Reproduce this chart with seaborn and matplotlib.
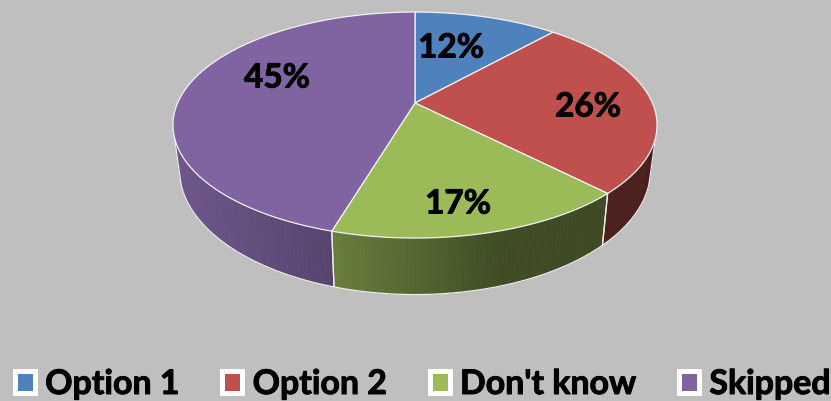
import numpy as np
import matplotlib
matplotlib.use("Agg")
import matplotlib.pyplot as plt
import matplotlib.patheffects as pe
from matplotlib.patches import Patch
import seaborn as sns

# values
labels = ["Option 1", "Option 2", "Don't know", "Skipped"]
shares = [11.6, 26.1, 16.9, 45.4]
colors = ["#4F81BD", "#C0504D", "#9BBB59", "#8064A2"]
# where the percent labels sit, in pixels
label_x = [451, 588, 458, 277]
label_y = [48, 107, 204, 78]

bg = "#BFBFBF"
sns.set_theme(style="white", rc={"figure.facecolor": bg, "axes.facecolor": bg})
plt.rcParams["font.family"] = ["Lato", "DejaVu Sans"]


# perspective view of the round top and bottom of the pie
def project(theta, a, b, yc, k=0.195):
    u, v = np.sin(theta), np.cos(theta)
    d = 1 + k * v
    return 415 + a * u / d, yc - b * v / d


def top(theta):
    return project(theta, 237.4, 108.7, 103)


def bottom(theta):
    return project(theta, 231, 120, 145.5)


fig = plt.figure(figsize=(8.31, 4.01), dpi=100)
ax = fig.add_axes([0, 0, 1, 1])
ax.set_xlim(0, 831)
ax.set_ylim(401, 0)
ax.axis("off")

edges = np.radians(np.cumsum([0] + shares) * 3.6)
wall_from, wall_to = np.arccos(-0.3), 2 * np.pi - np.arccos(-0.3)
bold = [pe.withStroke(linewidth=0.7, foreground="black")]

# side wall, darker towards the right
for i, c in enumerate(colors):
    lo, hi = max(edges[i], wall_from), min(edges[i + 1], wall_to)
    if lo >= hi:
        continue
    steps = np.linspace(lo, hi, int((hi - lo) * 60) + 2)
    rgb = np.array(sns.color_palette([c])[0])
    for t0, t1 in zip(steps[:-1], steps[1:]):
        x0, y0 = top(t0)
        x1, y1 = top(t1)
        x2, y2 = bottom(t1)
        x3, y3 = bottom(t0)
        shade = np.interp((x0 + x1) / 2, [175, 330, 500, 650], [0.86, 0.68, 0.41, 0.39])
        ax.fill([x0, x1, x2, x3], [y0, y1, y2, y3], color=tuple(rgb * shade), lw=0.5, zorder=2)
    # white line down each slice border
    for t in (lo, hi):
        xa, ya = top(t)
        xb, yb = bottom(t)
        ax.plot([xa, xb], [ya, yb], color="#EDEDED", lw=0.9, zorder=3)

rim = np.linspace(wall_from, wall_to, 200)
ax.plot(*bottom(rim), color="#EDEDED", lw=0.9, zorder=3)

# top face
for i, c in enumerate(colors):
    t = np.linspace(edges[i], edges[i + 1], 120)
    xs, ys = top(t)
    ax.fill(np.r_[415, xs], np.r_[103, ys], facecolor=c, edgecolor="#F2F2F2", lw=0.9,
            joinstyle="round", zorder=4)
    ax.text(label_x[i], label_y[i], f"{shares[i]:.0f}%", fontsize=24, fontweight="bold",
            color="black", ha="center", va="center", zorder=5, path_effects=bold)

handles = [Patch(facecolor=c, edgecolor="white", lw=3.6, joinstyle="round") for c in colors]
leg = ax.legend(handles, labels, loc="lower left", bbox_to_anchor=(15 / 831, 1 / 401),
                ncols=4, frameon=False, prop={"size": 24.4, "weight": "bold"},
                handlelength=0.59, handleheight=0.59, handletextpad=0.3,
                columnspacing=1.27, borderpad=0, borderaxespad=0)
for text in leg.get_texts():
    text.set_color("black")
    text.set_path_effects(bold)

fig.savefig("out.png", dpi=100, facecolor=bg)
